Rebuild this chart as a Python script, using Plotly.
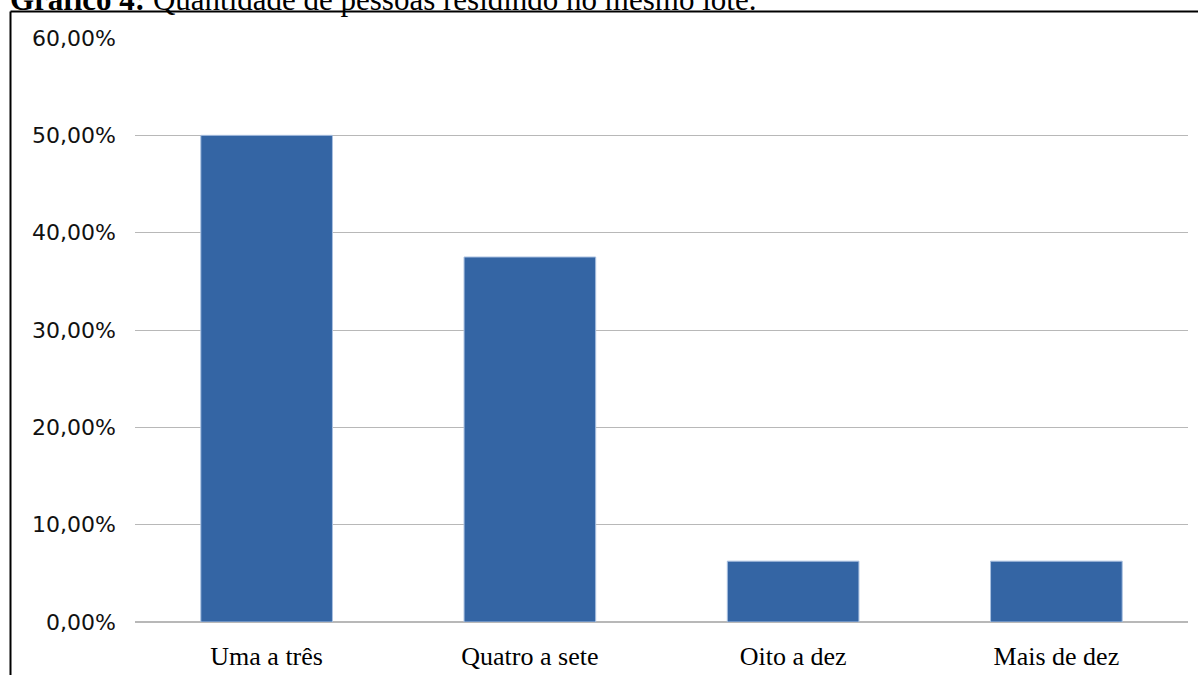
import plotly.graph_objects as go

# Quantidade de pessoas residindo no mesmo lote (proporção de respostas)
categorias = ["Uma a três", "Quatro a sete", "Oito a dez", "Mais de dez"]
proporcoes = [0.50, 0.375, 0.0625, 0.0625]

W, H = 1198, 675
ML, MR, MT, MB = 135, 10, 38, 53
plot_w = W - ML - MR
plot_h = H - MT - MB


def px_x(px):
    return (px - ML) / plot_w


def px_y(py):
    return 1 - (py - MT) / plot_h


serif = "Liberation Serif, Times New Roman, serif"
sans = "DejaVu Sans, Verdana, sans-serif"

fig = go.Figure(
    go.Bar(
        x=categorias,
        y=proporcoes,
        width=0.5,
        marker=dict(color="#3465a4", line=dict(color="#a9c0e0", width=1)),
    )
)

fig.update_layout(
    width=W,
    height=H,
    margin=dict(l=ML, r=MR, t=MT, b=MB),
    paper_bgcolor="white",
    plot_bgcolor="white",
    separators=",.",
    showlegend=False,
    font=dict(family=serif, size=26, color="black"),
    bargap=0.5,
)

fig.update_yaxes(
    range=[0, 0.6],
    dtick=0.1,
    tickformat=".2%",
    automargin=False,
    showgrid=True,
    gridcolor="#b8b8b8",
    gridwidth=1,
    zeroline=True,
    zerolinecolor="#b8b8b8",
    zerolinewidth=2,
    ticks="",
    ticklabelstandoff=18,
    tickfont=dict(family=sans, size=22, color="#111111"),
)

fig.update_xaxes(
    automargin=False,
    showgrid=False,
    showline=False,
    ticks="",
    ticklabelstandoff=16,
    tickfont=dict(family=serif, size=26, color="black"),
)

# Moldura da figura (bordas esquerda e superior)
fig.add_shape(type="line", xref="paper", yref="paper",
              x0=px_x(10.5), x1=px_x(1210), y0=px_y(11.5), y1=px_y(11.5),
              line=dict(color="black", width=2))
fig.add_shape(type="line", xref="paper", yref="paper",
              x0=px_x(10.5), x1=px_x(10.5), y0=px_y(11.5), y1=px_y(700),
              line=dict(color="black", width=2))

# Legenda do gráfico
fig.add_annotation(
    xref="paper", yref="paper",
    x=px_x(8), y=px_y(19),
    xanchor="left", yanchor="bottom",
    showarrow=False,
    text="<b>Gráfico 4:</b> Quantidade de pessoas residindo no mesmo lote.",
    font=dict(family=serif, size=31, color="black"),
)

fig.write_html("out.html")
